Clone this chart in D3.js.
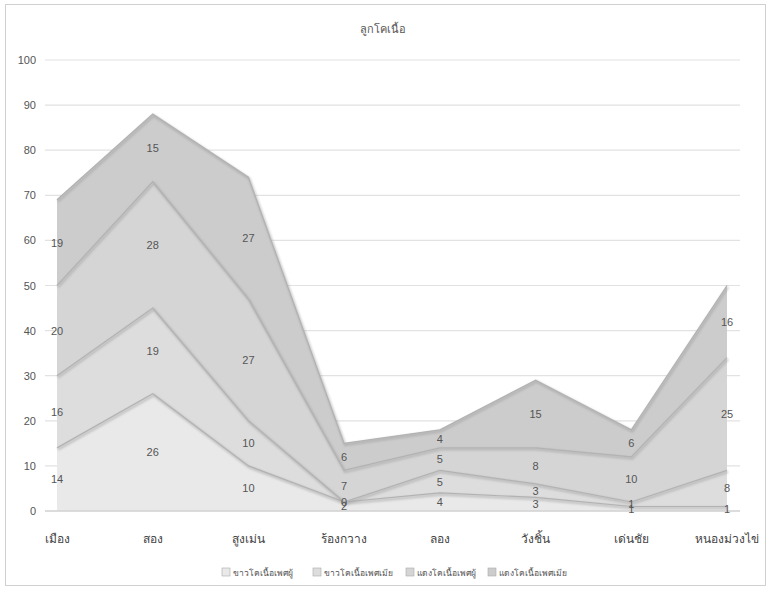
<!DOCTYPE html>
<html><head><meta charset="utf-8">
<script src="https://cdn.jsdelivr.net/npm/d3@7"></script>
<style>body{margin:0;background:#fff;font-family:"Liberation Sans","Noto Sans","DejaVu Sans",sans-serif;}</style>
</head><body><svg id="c" width="772" height="591"></svg>
<script>
const title = "ลูกโคเนื้อ";
const categories = ["เมือง","สอง","สูงเม่น","ร้องกวาง","ลอง","วังชิ้น","เด่นชัย","หนองม่วงไข่"];
const seriesNames = ["ขาวโคเนื้อเพศผู้","ขาวโคเนื้อเพศเมีย","แดงโคเนื้อเพศผู้","แดงโคเนื้อเพศเมีย"];
const s1 = [14,26,10,2,4,3,1,1];
const s2 = [16,19,10,0,5,3,1,8];
const s3 = [20,28,27,7,5,8,10,25];
const s4 = [19,15,27,6,4,15,6,16];
const yTicks = [0,10,20,30,40,50,60,70,80,90,100];
const fills = ["#e9e9e9","#dddddd","#d5d5d5","#cccccc"];

const svg = d3.select("#c");
svg.append("rect").attr("x",5.5).attr("y",4.5).attr("width",760).attr("height",581)
  .attr("fill","#fff").attr("stroke","#d0d0d0");

const x = d3.scalePoint().domain(categories).range([57,727]);
const y = d3.scaleLinear().domain([0,100]).range([511,60]);

const defs = svg.append("defs");
defs.append("filter").attr("id","blur").append("feGaussianBlur").attr("stdDeviation",1.2);

svg.append("g").selectAll("line").data(yTicks).join("line")
  .attr("x1",45).attr("x2",740).attr("y1",d=>y(d)).attr("y2",d=>y(d))
  .attr("stroke","#e2e2e2").attr("stroke-width",1.2);

svg.append("g").selectAll("text").data(yTicks).join("text")
  .attr("x",36).attr("y",d=>y(d)+4).attr("text-anchor","end")
  .attr("font-size",11).attr("fill","#555").text(d=>d);

const rows = categories.map((c,i)=>({cat:c, a:s1[i], b:s2[i], c2:s3[i], d:s4[i]}));
const keys = ["a","b","c2","d"];
const stacked = d3.stack().keys(keys)(rows);

const area = d3.area().x(d=>x(d.data.cat)).y0(d=>y(d[0])).y1(d=>y(d[1]));
const line = d3.line().x(d=>x(d.data.cat)).y(d=>y(d[1]));

const g = svg.append("g");
stacked.slice().reverse().forEach((s)=>{
  g.append("path").datum(s).attr("d",area).attr("fill",fills[s.index]);
});
stacked.forEach((s)=>{
  g.append("path").datum(s).attr("d",line).attr("fill","none")
    .attr("stroke","#999").attr("stroke-width",2.5).attr("opacity",0.5).attr("filter","url(#blur)")
    .attr("transform","translate(1,1.5)");
  g.append("path").datum(s).attr("d",line).attr("fill","none")
    .attr("stroke","#b2b2b2").attr("stroke-width",1.2);
});
svg.append("line").attr("x1",45).attr("x2",740).attr("y1",y(0)).attr("y2",y(0))
  .attr("stroke","#c8c8c8").attr("stroke-width",1.2);

stacked.forEach((s)=>{
  svg.append("g").selectAll("text").data(s).join("text")
    .attr("x",d=>x(d.data.cat)).attr("y",d=>y((d[0]+d[1])/2)+4)
    .attr("text-anchor","middle").attr("font-size",11).attr("fill","#555")
    .text(d=>d[1]-d[0]);
});

svg.append("g").selectAll("text").data(categories).join("text")
  .attr("x",d=>x(d)).attr("y",543).attr("text-anchor","middle")
  .attr("font-size",12).attr("fill","#444").text(d=>d);

svg.append("text").attr("x",383).attr("y",33).attr("text-anchor","middle")
  .attr("font-size",11).attr("fill","#555").text(title);

const lx = [222,313,406,488];
const lg = svg.append("g");
seriesNames.forEach((n,i)=>{
  lg.append("rect").attr("x",lx[i]).attr("y",568).attr("width",8).attr("height",8)
    .attr("fill",fills[i]).attr("stroke","#aaa").attr("stroke-width",0.6);
  lg.append("text").attr("x",lx[i]+11).attr("y",576).attr("font-size",8.5).attr("fill","#555").text(n);
});
</script></body></html>
